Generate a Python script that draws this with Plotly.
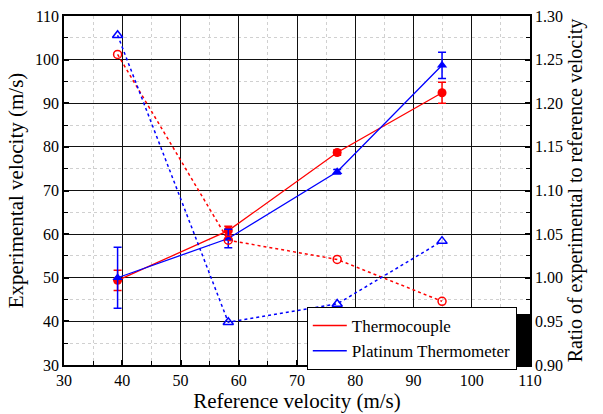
import plotly.graph_objects as go

ref_velocity = [39.2, 58.2, 76.9, 94.9]

tc_velocity = [49.4, 60.8, 78.7, 92.4]
tc_error = [2.3, 1.0, 0.6, 2.4]
pt_velocity = [50.0, 59.0, 74.3, 98.7]
pt_error = [7.0, 2.1, 0.5, 3.0]

tc_ratio = [1.256, 1.043, 1.021, 0.973]
pt_ratio = [1.278, 0.949, 0.970, 1.042]

RED = "#ff0000"
BLUE = "#0000ff"
FONT = "Liberation Serif"

fig = go.Figure()

# Ratio series (right axis), dotted
fig.add_trace(go.Scatter(
    x=ref_velocity, y=tc_ratio, yaxis="y2", mode="lines+markers",
    line=dict(color=RED, width=1.5, dash="dot"),
    marker=dict(symbol="circle-open", size=8, color=RED, line=dict(width=1.5)),
    showlegend=False, cliponaxis=False))
fig.add_trace(go.Scatter(
    x=ref_velocity, y=pt_ratio, yaxis="y2", mode="lines+markers",
    line=dict(color=BLUE, width=1.5, dash="dot"),
    marker=dict(symbol="triangle-up-open", size=9, color=BLUE, line=dict(width=1.5)),
    showlegend=False, cliponaxis=False))

# Velocity series (left axis)
fig.add_trace(go.Scatter(
    x=ref_velocity, y=tc_velocity, mode="lines+markers",
    line=dict(color=RED, width=1.3),
    marker=dict(symbol="circle", size=9, color=RED),
    error_y=dict(type="data", array=tc_error, color=RED, thickness=1.5, width=4),
    showlegend=False))
fig.add_trace(go.Scatter(
    x=ref_velocity, y=pt_velocity, mode="lines+markers",
    line=dict(color=BLUE, width=1.3),
    marker=dict(symbol="triangle-up", size=9, color=BLUE),
    error_y=dict(type="data", array=pt_error, color=BLUE, thickness=1.5, width=4),
    showlegend=False))

# Legend-only traces
fig.add_trace(go.Scatter(x=[None], y=[None], mode="lines", name="Thermocouple",
                         line=dict(color=RED, width=1.5)))
fig.add_trace(go.Scatter(x=[None], y=[None], mode="lines", name="Platinum Thermometer",
                         line=dict(color=BLUE, width=1.5)))

# Legend shadow
fig.add_shape(type="rect", xref="paper", yref="paper",
              x0=0.534, x1=1.0, y0=0.0, y1=0.146,
              fillcolor="black", line=dict(width=0), layer="above")

axis_common = dict(
    showline=True, linecolor="black", linewidth=1.5,
    showgrid=True, gridcolor="#111111", gridwidth=1,
    ticks="inside", ticklen=5, tickcolor="black", tickwidth=1.5,
    tickfont=dict(family=FONT, size=16, color="black"),
    zeroline=False, automargin=False,
)

fig.update_layout(
    width=603, height=414,
    margin=dict(l=64, r=73, t=16, b=49, autoexpand=False),
    plot_bgcolor="white", paper_bgcolor="white",
    font=dict(family=FONT, color="black"),
    xaxis=dict(
        **axis_common, range=[30, 110], dtick=10, tick0=30, mirror=True,
        title=dict(text="Reference velocity (m/s)", font=dict(family=FONT, size=21), standoff=2),
        minor=dict(dtick=5, showgrid=True, gridcolor="#d0d0d0", griddash="dot", gridwidth=1,
                   ticks="inside", ticklen=4, tickcolor="black", tickwidth=1.2),
    ),
    yaxis=dict(
        **axis_common, range=[30, 110], dtick=10, tick0=30,
        title=dict(text="Experimental velocity (m/s)", font=dict(family=FONT, size=21), standoff=6),
        minor=dict(dtick=5, showgrid=True, gridcolor="#d0d0d0", griddash="dot", gridwidth=1,
                   ticks="inside", ticklen=4, tickcolor="black", tickwidth=1.2),
    ),
    yaxis2=dict(
        overlaying="y", side="right", automargin=False,
        showline=True, linecolor="black", linewidth=1.5,
        showgrid=False, zeroline=False,
        range=[0.9, 1.3], dtick=0.05, tick0=0.9, tickformat=".2f",
        ticks="inside", ticklen=5, tickcolor="black", tickwidth=1.5,
        tickfont=dict(family=FONT, size=16, color="black"),
        title=dict(text="Ratio of experimental to reference velocity", font=dict(family=FONT, size=20), standoff=6),
        minor=dict(dtick=0.025, ticks="inside", ticklen=4, tickcolor="black", tickwidth=1.2),
    ),
    legend=dict(
        x=0.521, y=0.166, xanchor="left", yanchor="top",
        bgcolor="white", bordercolor="black", borderwidth=1,
        font=dict(family=FONT, size=17, color="black"),
        itemwidth=34, tracegroupgap=0,
    ),
)

fig.write_html("out.html")
